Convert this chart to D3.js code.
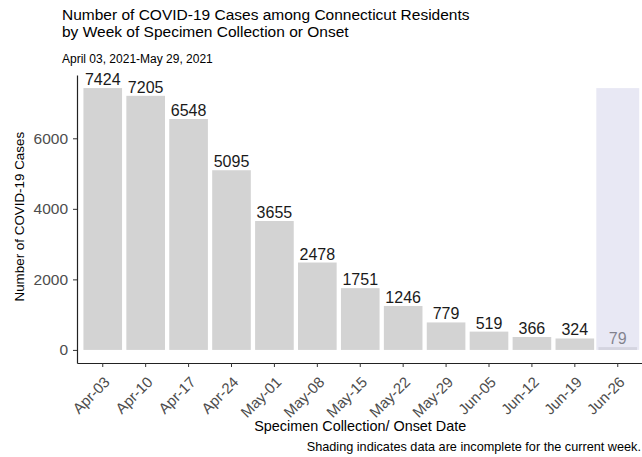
<!DOCTYPE html>
<html>
<head>
<meta charset="utf-8">
<script src="https://cdn.jsdelivr.net/npm/d3@7"></script>
<style>
  body { margin: 0; background: #fff; }
  svg text { font-family: "Liberation Sans", Arial, sans-serif; }
</style>
</head>
<body>
<div id="main"></div>
<script>

// weeks of specimen collection / onset
const weeks = ["Apr-03", "Apr-10", "Apr-17", "Apr-24", "May-01", "May-08", "May-15",
               "May-22", "May-29", "Jun-05", "Jun-12", "Jun-19", "Jun-26"];
const cases = [7424, 7205, 6548, 5095, 3655, 2478, 1751, 1246, 779, 519, 366, 324, 79];
const incompleteWeeks = ["Jun-26"];
const yTicks = [0, 2000, 4000, 6000];

const titleLines = ["Number of COVID-19 Cases among Connecticut Residents",
                    "by Week of Specimen Collection or Onset"];
const subtitle = "April 03, 2021-May 29, 2021";
const caption = "Shading indicates data are incomplete for the current week.";

class CaseBarVis{

    constructor(){

        this.width = 642;
        this.height = 457;
        this.panel = {left: 77, right: 643.5, top: 75, bottom: 363};

        this.svg = d3.select("#main").append("svg")
            .attr("width", this.width)
            .attr("height", this.height);

        this.update();
    }

    update(){

        let data = weeks.map((w, i) => ({week: w, n: cases[i]}));
        let maxCases = d3.max(cases);
        let pad = maxCases * 0.05;

        const xScale = d3.scaleBand()
            .domain(weeks)
            .range([this.panel.left, this.panel.right])
            .paddingInner(0.1)
            .paddingOuter(0.15);

        const yScale = d3.scaleLinear()
            .domain([-pad, maxCases + pad])
            .range([this.panel.bottom, this.panel.top]);

        //bars
        this.svg.selectAll(".bar")
            .data(data)
            .enter().append("rect")
            .attr("class", "bar")
            .attr("x", d => xScale(d.week))
            .attr("width", xScale.bandwidth())
            .attr("y", d => yScale(d.n))
            .attr("height", d => yScale(0) - yScale(d.n))
            .attr("fill", "#d3d3d3");

        //value labels
        this.svg.selectAll(".bar-label")
            .data(data)
            .enter().append("text")
            .attr("class", "bar-label")
            .attr("x", d => xScale(d.week) + xScale.bandwidth() / 2)
            .attr("y", d => yScale(d.n) - 3)
            .attr("text-anchor", "middle")
            .style("font-size", "16px")
            .attr("fill", "#1a1a1a")
            .text(d => d.n);

        //shading for the incomplete week, drawn over the bar
        let step = xScale.step();
        this.svg.selectAll(".shade")
            .data(incompleteWeeks)
            .enter().append("rect")
            .attr("class", "shade")
            .attr("x", d => xScale(d) + xScale.bandwidth() / 2 - step / 2)
            .attr("width", step)
            .attr("y", yScale(maxCases))
            .attr("height", yScale(0) - yScale(maxCases))
            .attr("fill", "rgb(213,213,235)")
            .attr("fill-opacity", 0.55);

        //Y axis
        let yAxis = this.svg.append("g")
            .attr("transform", "translate(" + this.panel.left + ",0)")
            .call(d3.axisLeft(yScale).tickValues(yTicks).tickFormat(d3.format("d"))
                .tickSize(4).tickPadding(5).tickSizeOuter(0));
        yAxis.select(".domain").attr("stroke", "#222").attr("stroke-width", 1.2);
        yAxis.selectAll(".tick line").attr("stroke", "#333");
        yAxis.selectAll("text")
            .style("font-size", "15.5px")
            .attr("fill", "#4d4d4d");

        //X axis
        let xAxis = this.svg.append("g")
            .attr("transform", "translate(0," + this.panel.bottom + ")")
            .call(d3.axisBottom(xScale).tickSize(4).tickSizeOuter(0));
        xAxis.select(".domain").attr("stroke", "#222").attr("stroke-width", 1.2);
        xAxis.selectAll(".tick line").attr("stroke", "#333");
        xAxis.selectAll("text")
            .style("font-size", "15px")
            .attr("fill", "#4d4d4d")
            .style("text-anchor", "end")
            .attr("x", 0)
            .attr("y", 0)
            .attr("dy", 0)
            .attr("transform", "translate(8,20)rotate(-45)");

        //titles
        this.svg.selectAll(".title")
            .data(titleLines)
            .enter().append("text")
            .attr("class", "title")
            .attr("x", 62)
            .attr("y", (d, i) => 20 + i * 17)
            .style("font-size", "15.5px")
            .attr("fill", "#000")
            .text(d => d);

        this.svg.append("text")
            .attr("x", 62)
            .attr("y", 63)
            .style("font-size", "12px")
            .text(subtitle);

        // Y axis label
        this.svg.append("text")
            .text("Number of COVID-19 Cases")
            .style("font-size", "13.4px")
            .style("text-anchor", "middle")
            .attr("transform", "translate(23.5," + 216.7 + ")rotate(-90)");

        // X axis label
        this.svg.append("text")
            .text("Specimen Collection/ Onset Date")
            .style("font-size", "14.4px")
            .style("text-anchor", "middle")
            .attr("transform", "translate(" + ((this.panel.left + this.panel.right) / 2) + ",431)");

        // caption
        this.svg.append("text")
            .text(caption)
            .style("font-size", "12.7px")
            .style("text-anchor", "end")
            .attr("transform", "translate(641,451)");
    }
}

new CaseBarVis();
</script>
</body>
</html>
